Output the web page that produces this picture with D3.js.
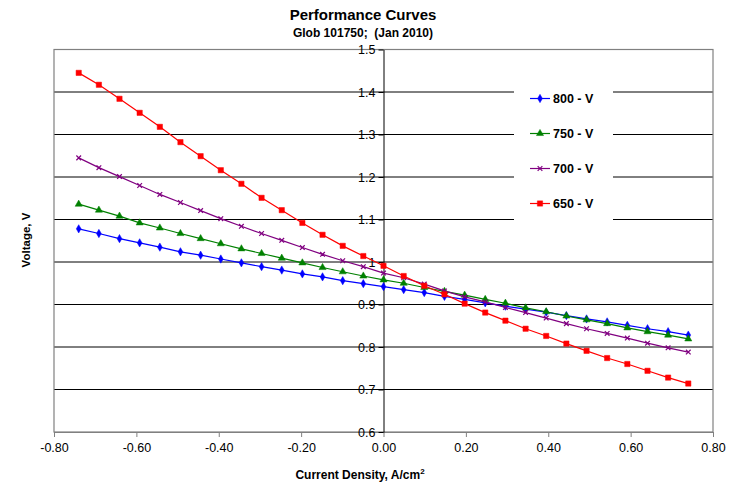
<!DOCTYPE html>
<html>
<head>
<meta charset="utf-8">
<script src="https://cdn.jsdelivr.net/npm/d3@7"></script>
<style>
  html, body { margin: 0; padding: 0; background: #fff; }
  svg { display: block; font-family: Arial, "Liberation Sans", sans-serif; }
</style>
</head>
<body>
<svg id="chart" width="730" height="485"></svg>
<script>
// ---------- data ----------
const currentDensity = [-0.740, -0.691, -0.641, -0.592, -0.543, -0.493, -0.444, -0.395, -0.345, -0.296,
  -0.247, -0.197, -0.148, -0.099, -0.049, 0.000, 0.049, 0.099, 0.148, 0.197,
  0.247, 0.296, 0.345, 0.395, 0.444, 0.493, 0.543, 0.592, 0.641, 0.691, 0.740];
const v800 = [1.078, 1.067, 1.055, 1.045, 1.035, 1.024, 1.016, 1.007, 0.998, 0.989,
  0.981, 0.972, 0.965, 0.956, 0.949, 0.942, 0.935, 0.928, 0.919, 0.912,
  0.904, 0.896, 0.889, 0.882, 0.874, 0.866, 0.859, 0.851, 0.843, 0.836, 0.828];
const v750 = [1.136, 1.122, 1.108, 1.092, 1.080, 1.067, 1.055, 1.043, 1.031, 1.020,
  1.009, 0.998, 0.987, 0.977, 0.967, 0.958, 0.950, 0.940, 0.931, 0.922,
  0.912, 0.903, 0.892, 0.883, 0.873, 0.864, 0.855, 0.845, 0.836, 0.828, 0.819];
const v700 = [1.245, 1.222, 1.201, 1.180, 1.159, 1.140, 1.121, 1.102, 1.084, 1.067,
  1.051, 1.034, 1.018, 1.003, 0.989, 0.974, 0.963, 0.948, 0.932, 0.918,
  0.906, 0.893, 0.881, 0.868, 0.855, 0.843, 0.832, 0.821, 0.809, 0.798, 0.788];
const v650 = [1.445, 1.417, 1.384, 1.351, 1.318, 1.282, 1.249, 1.216, 1.184, 1.151,
  1.122, 1.092, 1.064, 1.038, 1.014, 0.991, 0.967, 0.944, 0.924, 0.902,
  0.881, 0.862, 0.843, 0.826, 0.808, 0.791, 0.774, 0.760, 0.744, 0.728, 0.714];
const seriesNames = ["800 - V", "750 - V", "700 - V", "650 - V"];
const xTicks = [-0.8, -0.6, -0.4, -0.2, 0, 0.2, 0.4, 0.6, 0.8];
const xTickLabels = ["-0.80", "-0.60", "-0.40", "-0.20", "0.00", "0.20", "0.40", "0.60", "0.80"];
const yTicks = [0.6, 0.7, 0.8, 0.9, 1.0, 1.1, 1.2, 1.3, 1.4, 1.5];
const yTickLabels = ["0.6", "0.7", "0.8", "0.9", "1", "1.1", "1.2", "1.3", "1.4", "1.5"];
const titleText = "Performance Curves";
const subtitleText = "Glob 101750;  (Jan 2010)";

// ---------- styles ----------
const colors = ["#0000FF", "#008000", "#800080", "#FF0000"];
const symbols = [d3.symbolDiamond, d3.symbolTriangle, d3.symbolTimes, d3.symbolSquare];
const symSizes = [20, 22, 16, 28];
const filled = [true, true, false, true];

const seriesValues = [v800, v750, v700, v650];
const series = seriesNames.map((name, i) => ({
  name, color: colors[i], symbol: symbols[i], size: symSizes[i], filled: filled[i],
  points: currentDensity.map((xv, j) => ({ x: xv, y: seriesValues[i][j] }))
}));

const svg = d3.select("#chart");
const plotLeft = 54, plotRight = 713, plotTop = 49.5, plotBottom = 432;
const x = d3.scaleLinear().domain([-0.8, 0.8]).range([plotLeft, plotRight]);
const y = d3.scaleLinear().domain([0.6, 1.5]).range([plotBottom, plotTop]);

// gridlines
svg.append("g").selectAll("line").data(yTicks.filter(t => t > 0.6 && t < 1.5)).join("line")
  .attr("x1", plotLeft).attr("x2", plotRight)
  .attr("y1", d => y(d)).attr("y2", d => y(d))
  .attr("stroke", "#000").attr("stroke-width", 1);

// frame
svg.append("rect").attr("x", plotLeft).attr("y", plotTop)
  .attr("width", plotRight - plotLeft).attr("height", plotBottom - plotTop)
  .attr("fill", "none").attr("stroke", "#808080").attr("stroke-width", 1.2);

// x axis (bottom) ticks and labels
const xAxis = d3.axisBottom(x).tickValues(xTicks)
  .tickFormat((d, i) => xTickLabels[i]).tickSize(5).tickSizeOuter(0);
const gx = svg.append("g").attr("transform", `translate(0,${plotBottom})`).call(xAxis);
gx.select(".domain").attr("stroke", "#808080").attr("stroke-width", 1.2);
gx.selectAll(".tick line").attr("stroke", "#808080");
gx.selectAll(".tick text").attr("font-size", 12.5).attr("fill", "#000")
  .attr("font-family", "Arial, 'Liberation Sans', sans-serif").attr("dy", "0.95em");

// y axis at x = 0
const yAxis = d3.axisLeft(y).tickValues(yTicks)
  .tickFormat((d, i) => yTickLabels[i]).tickSize(5).tickSizeOuter(0);
const gy = svg.append("g").attr("transform", `translate(${x(0)},0)`).call(yAxis);
gy.select(".domain").attr("stroke", "#000").attr("stroke-width", 1);
gy.selectAll(".tick line").attr("stroke", "#000");
gy.selectAll(".tick text").attr("font-size", 12.5).attr("fill", "#000")
  .attr("font-family", "Arial, 'Liberation Sans', sans-serif").attr("x", -8);

// series
const line = d3.line().x(d => x(d.x)).y(d => y(d.y));
series.forEach(s => {
  const g = svg.append("g");
  g.append("path").datum(s.points).attr("d", line)
    .attr("fill", "none").attr("stroke", s.color).attr("stroke-width", 1.2);
  g.selectAll("path.m").data(s.points).join("path").attr("class", "m")
    .attr("transform", d => `translate(${x(d.x)},${y(d.y)})`)
    .attr("d", d3.symbol().type(s.symbol).size(s.size))
    .attr("fill", s.filled ? s.color : "none")
    .attr("stroke", s.color).attr("stroke-width", s.filled ? 0.5 : 1.2);
});

// legend
const legend = svg.append("g");
legend.append("rect").attr("x", 514).attr("y", 79).attr("width", 99).attr("height", 143).attr("fill", "#fff");
series.forEach((s, i) => {
  const cy = 98.5 + i * 35;
  legend.append("line").attr("x1", 530).attr("x2", 550).attr("y1", cy).attr("y2", cy)
    .attr("stroke", s.color).attr("stroke-width", 1.2);
  legend.append("path").attr("transform", `translate(540,${cy})`)
    .attr("d", d3.symbol().type(s.symbol).size(s.size))
    .attr("fill", s.filled ? s.color : "none")
    .attr("stroke", s.color).attr("stroke-width", s.filled ? 0.5 : 1.2);
  legend.append("text").attr("x", 553).attr("y", cy).attr("dy", "0.36em")
    .attr("font-size", 12.5).attr("font-weight", "bold").text(s.name);
});

// titles
svg.append("text").attr("x", 363).attr("y", 20).attr("text-anchor", "middle")
  .attr("font-size", 15).attr("font-weight", "bold").text(titleText);
svg.append("text").attr("x", 363).attr("y", 36.5).attr("text-anchor", "middle")
  .attr("font-size", 12).attr("font-weight", "bold").style("white-space", "pre").text(subtitleText);

const xt = svg.append("text").attr("x", 360).attr("y", 479).attr("text-anchor", "middle")
  .attr("font-size", 12).attr("font-weight", "bold");
xt.append("tspan").text("Current Density, A/cm");
xt.append("tspan").attr("dy", -5).attr("font-size", 8).text("2");

svg.append("text").attr("transform", "translate(30,240) rotate(-90)").attr("text-anchor", "middle")
  .attr("font-size", 11.5).attr("font-weight", "bold").text("Voltage, V");
</script>
</body>
</html>
